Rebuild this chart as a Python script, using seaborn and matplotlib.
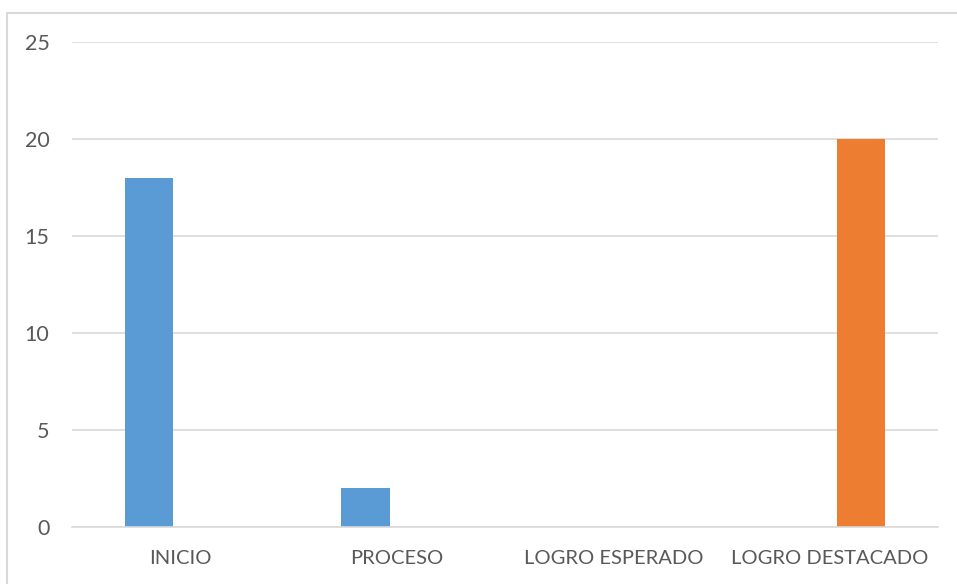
import matplotlib
matplotlib.use("Agg")
import matplotlib.pyplot as plt
import seaborn as sns
import pandas as pd
from matplotlib.patches import Rectangle

categories = ["INICIO", "PROCESO", "LOGRO ESPERADO", "LOGRO DESTACADO"]
series_a = [18, 2, 0, 0]
series_b = [0, 0, 0, 20]
series_names = ["Serie 1", "Serie 2"]
y_ticks = [0, 5, 10, 15, 20, 25]

df = pd.DataFrame({
    "cat": categories * 2,
    "val": series_a + series_b,
    "serie": [series_names[0]] * 4 + [series_names[1]] * 4,
})

sns.set_theme(style="white")
plt.rcParams["font.family"] = ["Lato", "DejaVu Sans"]

W, H = 957, 584
fig = plt.figure(figsize=(W / 100, H / 100), dpi=100)
ax = fig.add_axes([71.7 / W, 1 - 526.7 / H, (938.3 - 71.7) / W, (526.7 - 42.3) / H])

sns.barplot(data=df, x="cat", y="val", hue="serie", order=categories,
            hue_order=series_names, palette=["#5B9BD5", "#ED7D31"],
            width=0.572, gap=0.216, legend=False, ax=ax, saturation=1,
            linewidth=0, errorbar=None)

ax.set_xlim(-0.5, 3.5)
ax.set_ylim(0, 25)
ax.set_yticks(y_ticks)
ax.set_yticklabels([str(t) for t in y_ticks])
ax.yaxis.grid(True, color="#D9D9D9", linewidth=1.2)
ax.set_axisbelow(True)
for s in ["top", "right", "left"]:
    ax.spines[s].set_visible(False)
ax.spines["bottom"].set_color("#D9D9D9")
ax.spines["bottom"].set_linewidth(1.2)
ax.set_xlabel("")
ax.set_ylabel("")
ax.tick_params(axis="both", length=0, labelsize=14.5, colors="#595959")
ax.tick_params(axis="y", labelsize=15.5, pad=16)
ax.tick_params(axis="x", pad=17)

fig.patches.append(Rectangle((7.5 / W, -0.1), 1.2, (584 - 12.5) / H + 0.1,
                             transform=fig.transFigure, fill=False,
                             edgecolor="#D9D9D9", linewidth=1.5))

fig.savefig("out.png", dpi=100)
